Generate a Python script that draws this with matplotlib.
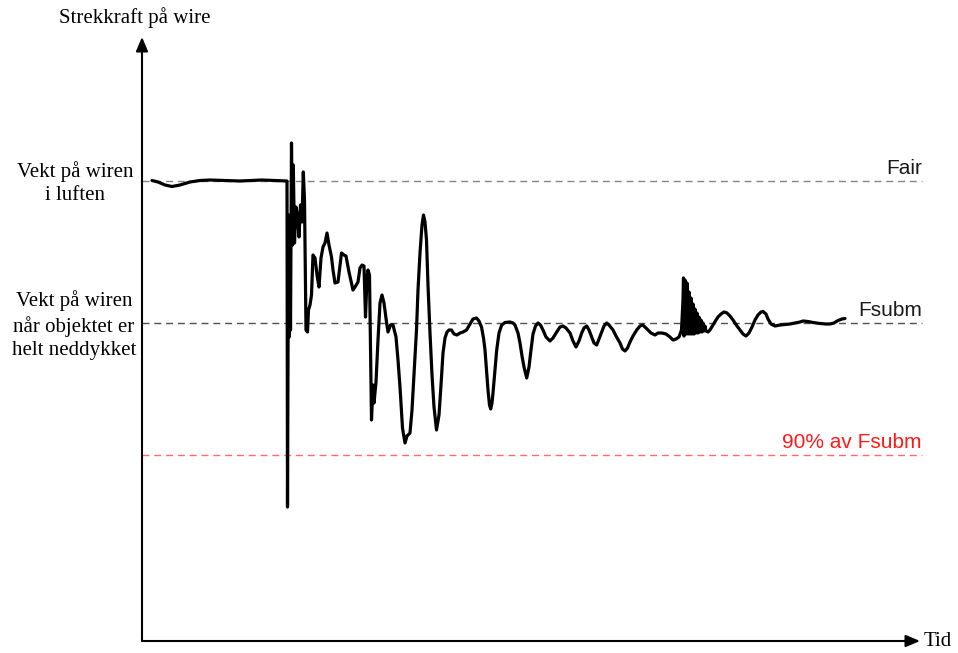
import matplotlib
matplotlib.use("Agg")
import matplotlib.pyplot as plt

# Wire tension over time while an object is lowered through the splash zone
# (schematic units: time along x, tension along y)
t = [10, 16, 23, 30, 38, 48, 58, 68, 83, 98, 108, 120, 133, 145,
     145.5, 146.5, 147.2, 148, 148.5, 149.5, 150.5, 151.3, 152.5, 154, 155.5, 157, 158.5, 160,
     161.3, 162.5, 164, 165.5, 166.5, 168, 169.5, 171, 173, 175, 177, 179, 181, 183, 185, 187,
     189.5, 191, 193, 196, 198, 199.5, 202, 204, 207, 211, 213, 216, 218, 220, 222, 223.5, 225,
     226, 227.5, 229.5, 231, 232, 234, 236, 238, 240, 242, 244.5, 246, 248.5, 251, 254, 256, 258,
     260.5, 263, 265, 268, 270, 272, 274.5, 276, 278, 280, 281.5, 283, 284.5, 286, 288, 290, 292,
     294.5, 297, 299, 301, 303, 305, 307, 309.5, 312, 315, 318, 321, 324.5, 328, 331, 334.5, 337,
     339.5, 341.5, 343, 344.5, 346, 347.5, 348.7, 350, 351, 353, 354.7, 357, 359.7, 363, 368, 371,
     373, 376, 378, 380, 382, 384.7, 387, 389, 391, 393.5, 396, 398.5, 401, 404, 408, 411, 414.7,
     418, 421, 424, 428, 431, 434, 437, 439.7, 442, 444.7, 447, 449.7, 452, 454.7, 457, 459.7, 462,
     464.7, 467, 471, 474, 478, 480.5, 483, 485.5, 488, 491, 494.7, 498, 500.7, 503, 506, 509, 513,
     516, 520, 524, 528, 531, 534, 537, 539.5, 541, 541.5, 542, 543, 544, 545, 546, 547, 548, 549,
     550, 551, 552, 553, 554, 555, 556, 557, 558, 559, 560, 561, 562, 563, 564, 566, 568, 571, 574,
     576, 579, 582, 585, 588, 591, 595, 598, 601, 604, 607, 610, 613, 616, 619, 621, 624, 626, 629,
     633, 638, 643, 648, 653, 658, 661, 666, 671, 678, 684, 688, 692, 696, 700, 703]
tension = [460.5, 459, 456, 454.5, 456, 459, 460.5, 461, 460.5, 460, 460.5, 461, 460.5, 460,
           134, 426, 304, 381, 311, 498, 396, 476, 398, 434, 426, 404, 436, 419,
           469, 441, 311, 309, 331, 336, 346, 386, 383, 366, 354, 383, 394, 398, 408, 396,
           384, 371, 358, 359, 376, 388, 386, 385, 369, 351, 354, 359, 373, 376, 375, 324, 363,
           371, 366, 221, 256, 238, 259, 301, 338, 346, 338, 319, 309, 316, 316, 304, 281, 254,
           213, 198, 205, 208, 231, 266, 311, 351, 388, 416, 426, 419, 401, 356, 308, 266, 234,
           211, 226, 256, 288, 303, 309, 311, 311, 307, 306, 308, 309, 311, 317, 322, 323, 320,
           314, 303, 291, 271, 251, 236, 232, 238, 248, 271, 291, 308, 316, 318.5, 319, 318,
           316, 308, 298, 285, 274, 263, 274, 291, 307, 315, 318, 316, 311, 304, 300, 303, 309,
           314, 315, 313, 308, 300, 294, 300, 308, 313, 315, 311, 304, 298, 296, 302, 309, 315,
           318, 316, 311, 305, 298, 292, 290, 293, 299, 305, 311, 315, 316, 314, 311, 308, 306,
           308, 308, 307, 304, 301, 302, 304, 311, 341, 363, 305, 361, 307, 358, 307, 349, 307, 343,
           307, 337, 307, 332, 308, 328, 308, 324, 309, 321, 309, 318, 310, 315, 310, 309, 311, 316, 321,
           324, 327, 329, 328, 325, 321, 315, 311, 307, 305, 308, 314, 321, 326, 329, 329.5, 327, 322,
           317, 315, 316, 316.5, 317, 318, 319, 320, 319.5, 318.5, 317.5, 317, 317, 318, 320.5, 322, 322.5]

# Reference levels
levels = [460, 318, 186]
level_names = ["Fair", "Fsubm", "90% av Fsubm"]
level_colors = ["#858585", "#505050", "#ff6a6a"]
label_colors = ["#1a1a1a", "#1a1a1a", "#ff1a1a"]

left_labels = ["Vekt på wiren\ni luften", "Vekt på wiren\nnår objektet er\nhelt neddykket"]
y_title = "Strekkraft på wire"
x_title = "Tid"

serif = ["Liberation Serif", "DejaVu Serif"]
sans = ["Liberation Sans", "DejaVu Sans"]

fig = plt.figure(figsize=(9.58, 6.53), dpi=100)
ax = fig.add_axes([0, 0, 1, 1])
ax.set_xlim(-142, 816)
ax.set_ylim(-12, 641)
ax.axis("off")

# Dashed reference lines with right-aligned labels
t_end = 780
for lvl, name, lc, tc in zip(levels, level_names, level_colors, label_colors):
    ax.plot([0, t_end], [lvl, lvl], color=lc, lw=1.0, dashes=(5, 3.5), zorder=1)
    ax.text(t_end, lvl + 7, name, ha="right", va="baseline", fontsize=15,
            family=sans, color=tc)

# Tension curve
ax.plot(t, tension, color="black", lw=2.3, solid_joinstyle="round",
        solid_capstyle="round", zorder=3)

# Axes drawn as arrows
arrow = dict(arrowstyle="-|>,head_length=0.85,head_width=0.36", lw=1.5,
             color="black", shrinkA=0, shrinkB=0, mutation_scale=10)
ax.annotate("", xy=(0, 604), xytext=(0, 0), arrowprops=arrow, zorder=4)
ax.annotate("", xy=(778, 0), xytext=(0, 0), arrowprops=arrow, zorder=4)

ax.text(-7, 623, y_title, ha="center", va="center", fontsize=15, family=serif)
ax.text(782, 0, x_title, ha="left", va="center", fontsize=15, family=serif)

ax.text(-67, 458, left_labels[0], ha="center", va="center", fontsize=15,
        family=serif, linespacing=1.3)
ax.text(-68, 316, left_labels[1], ha="center", va="center", fontsize=15,
        family=serif, linespacing=1.3)

fig.savefig("out.png", dpi=100)
